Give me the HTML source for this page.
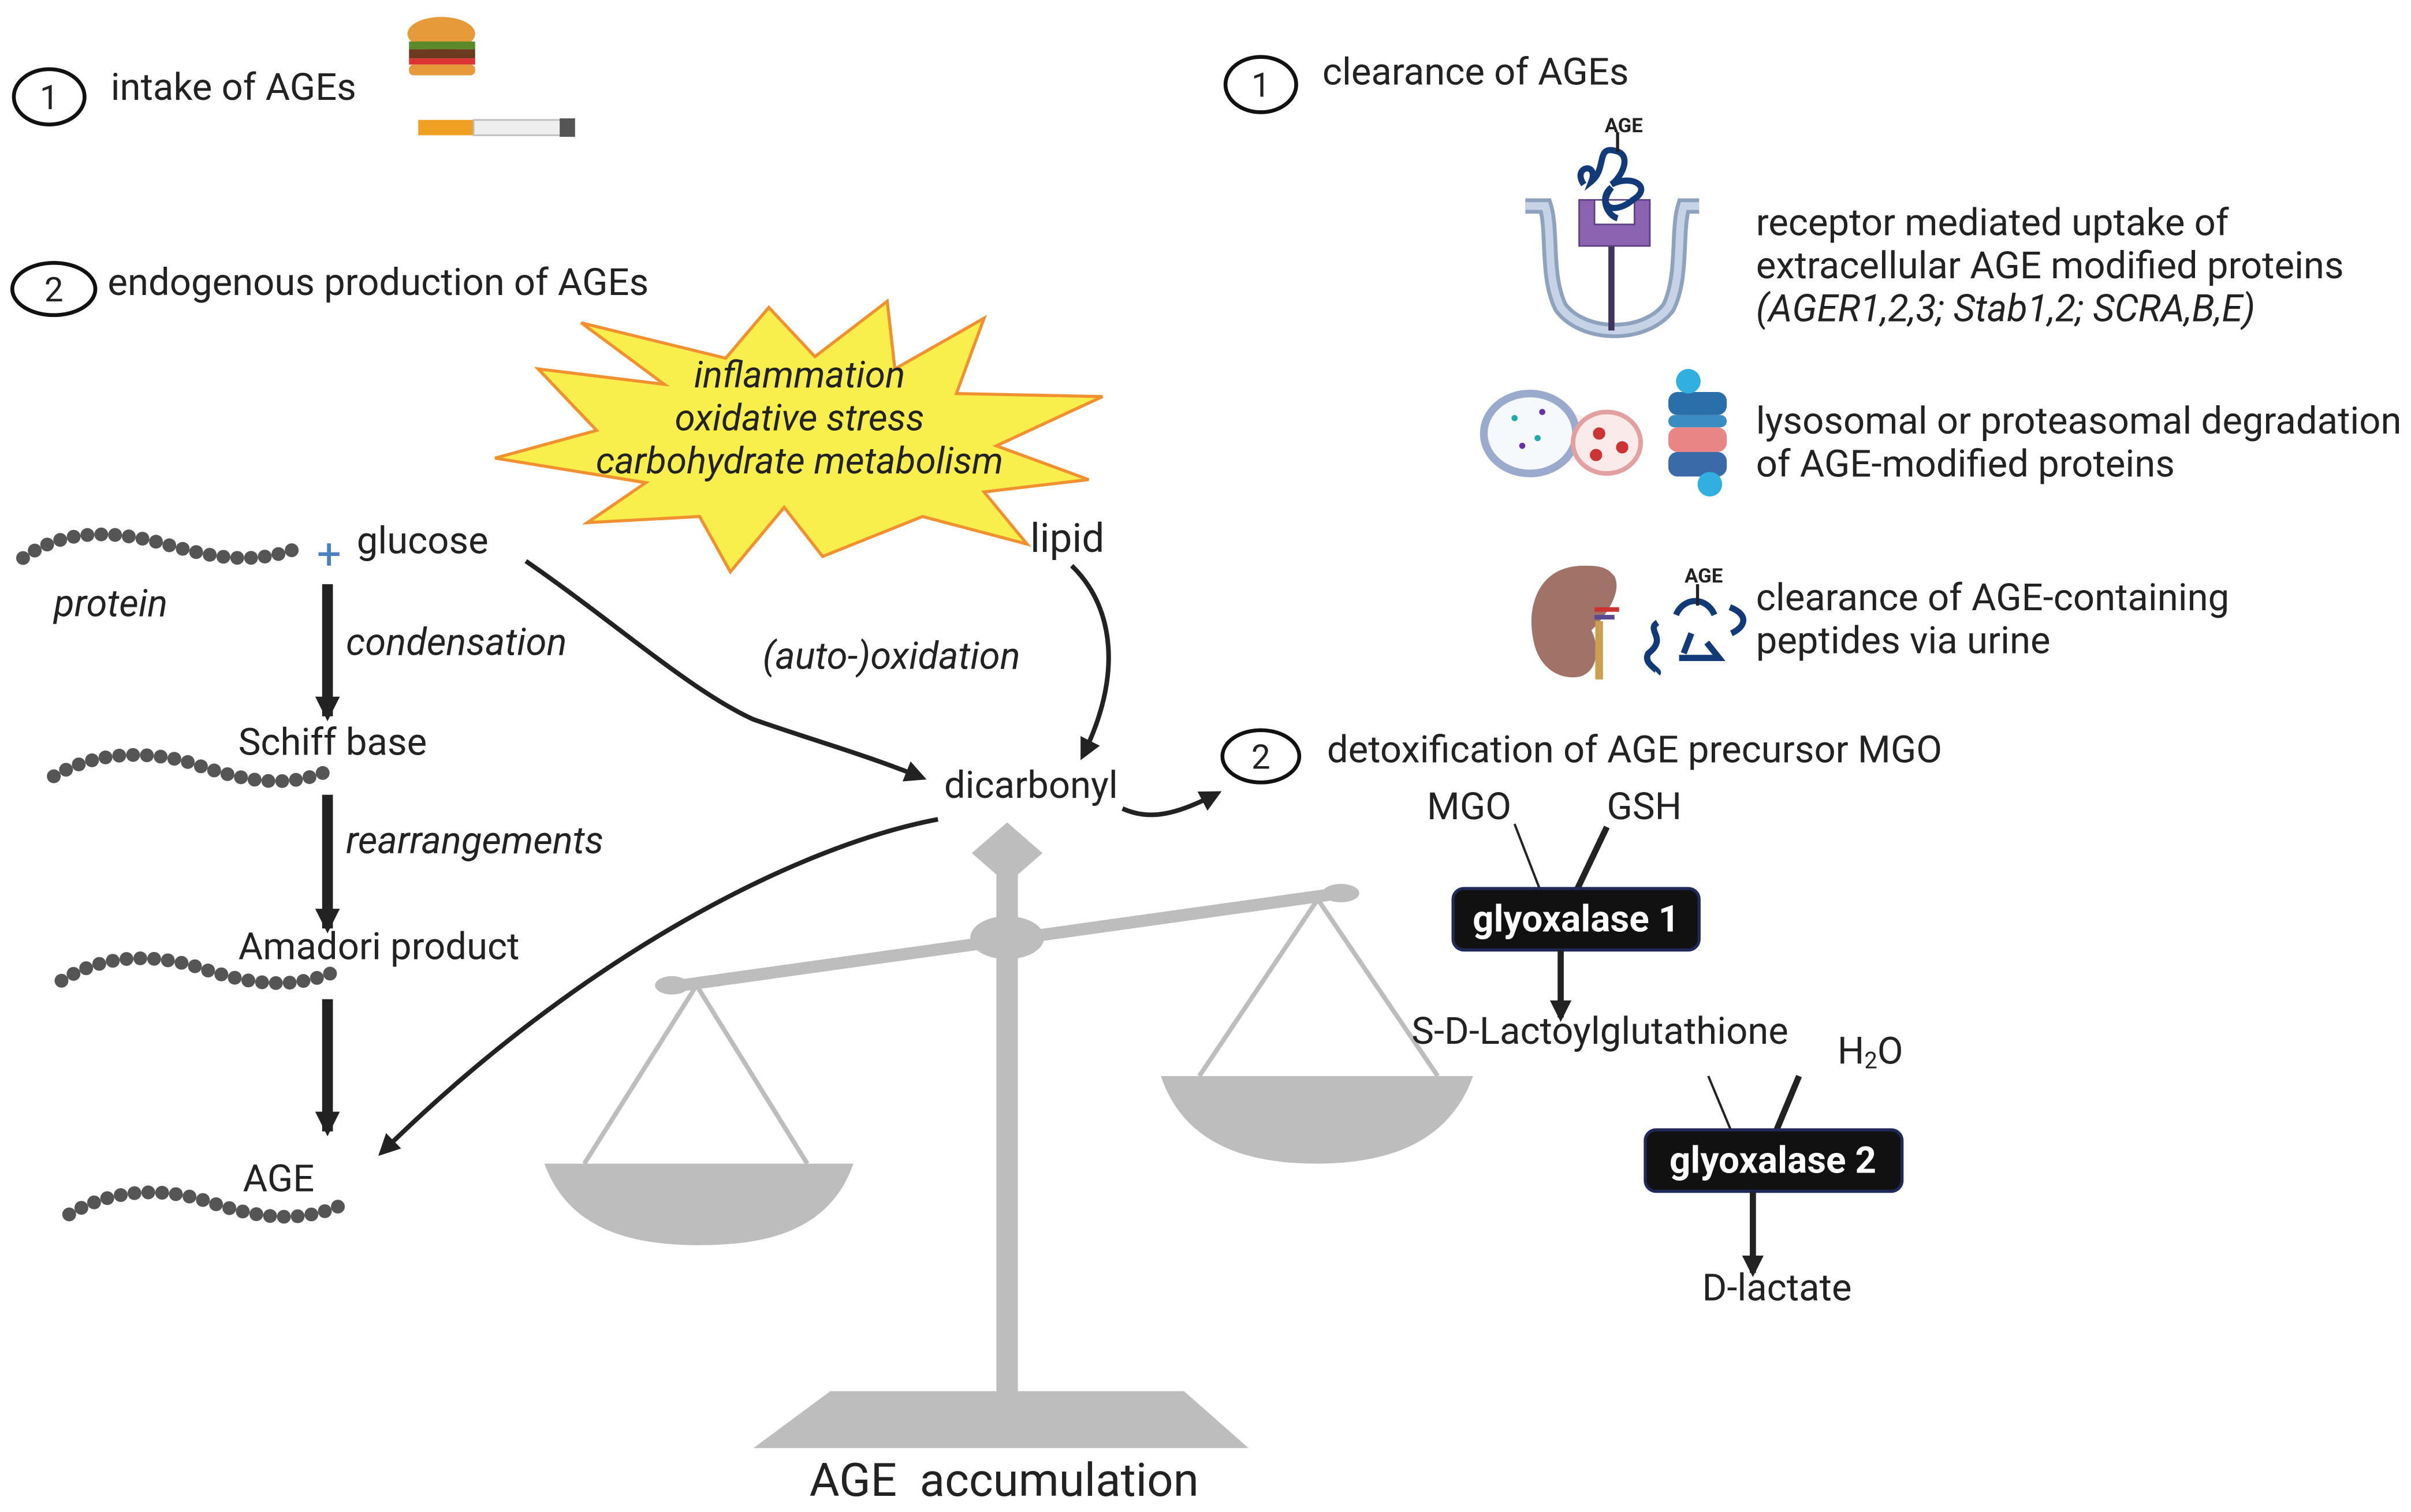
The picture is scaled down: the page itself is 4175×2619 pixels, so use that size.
<!DOCTYPE html>
<html><head><meta charset="utf-8"><style>
html,body{margin:0;padding:0;background:#fff;}
svg{display:block;}
text{font-family:"Roboto","Liberation Sans",sans-serif;fill:#222;}
</style></head><body>
<svg width="4175" height="2619" viewBox="0 0 1568 983.6" preserveAspectRatio="none" xmlns="http://www.w3.org/2000/svg">
<defs>
<marker id="ah" viewBox="0 0 10 10" refX="8" refY="5" markerWidth="18" markerHeight="16" markerUnits="userSpaceOnUse" orient="auto"><path d="M0,0 L10,5 L0,10 Z" fill="#222"/></marker>
<marker id="ah2" viewBox="0 0 10 10" refX="8" refY="5" markerWidth="16" markerHeight="14" markerUnits="userSpaceOnUse" orient="auto"><path d="M0,0 L10,5 L0,10 Z" fill="#222"/></marker>
</defs>
<rect width="1568" height="984" fill="#fff"/>

<ellipse cx="32" cy="63" rx="23" ry="18" fill="none" stroke="#111" stroke-width="2.5"/>
<text x="32" y="71" font-size="22" text-anchor="middle">1</text>
<text x="72" y="65" font-size="24.5">intake of AGEs</text>
<ellipse cx="287" cy="22" rx="22" ry="11" fill="#e69a3a"/>
<rect x="266" y="27" width="43" height="5" fill="#5a8a2a"/>
<rect x="266" y="32" width="43" height="6" fill="#6b3a1f"/>
<rect x="266" y="38" width="43" height="4" fill="#d33"/>
<rect x="266" y="42" width="43" height="7" rx="3" fill="#e69a3a"/>
<rect x="272" y="78" width="36" height="10" fill="#f0a020"/>
<rect x="308" y="78" width="60" height="10" fill="#eee" stroke="#bbb"/>
<rect x="364" y="77" width="10" height="12" fill="#555"/>

<ellipse cx="35" cy="188" rx="27" ry="17" fill="none" stroke="#111" stroke-width="2.5"/>
<text x="35" y="196" font-size="22" text-anchor="middle">2</text>
<text x="70" y="192" font-size="24.5">endogenous production of AGEs</text>

<polygon points="322,298 388,280 350,240 432,250 378,210 472,233 500,200 530,232 577,196 582,240 640,207 622,256 717,258 648,290 708,312 640,320 668,354 600,336 535,362 510,330 475,372 455,336 382,340 420,314" fill="#f8ee4c" stroke="#f09030" stroke-width="2"/>
<text x="520" y="252" font-size="24" font-style="italic" text-anchor="middle">inflammation</text>
<text x="520" y="280" font-size="24" font-style="italic" text-anchor="middle">oxidative stress</text>
<text x="520" y="308" font-size="24" font-style="italic" text-anchor="middle">carbohydrate metabolism</text>

<path d="M15,363 C40,345 70,345 100,352 C130,360 160,370 195,356" fill="none" stroke="#555" stroke-width="9" stroke-dasharray="0 9" stroke-linecap="round"/>
<path d="M35,505 C60,490 90,488 120,495 C150,505 180,515 212,502" fill="none" stroke="#555" stroke-width="9" stroke-dasharray="0 9" stroke-linecap="round"/>
<path d="M40,638 C65,622 95,620 125,628 C155,638 185,646 218,632" fill="none" stroke="#555" stroke-width="9" stroke-dasharray="0 9" stroke-linecap="round"/>
<path d="M45,790 C70,775 100,772 130,780 C160,790 190,798 222,784" fill="none" stroke="#555" stroke-width="9" stroke-dasharray="0 9" stroke-linecap="round"/>

<text x="214" y="370" font-size="28" style="fill:#4a7fc0" text-anchor="middle">+</text>
<text x="232" y="360" font-size="24.5">glucose</text>
<text x="35" y="401" font-size="24.5" font-style="italic">protein</text>
<line x1="213" y1="380" x2="213" y2="466" stroke="#222" stroke-width="7" marker-end="url(#ah)"/>
<line x1="213" y1="517" x2="213" y2="604" stroke="#222" stroke-width="7" marker-end="url(#ah)"/>
<line x1="213" y1="650" x2="213" y2="736" stroke="#222" stroke-width="7" marker-end="url(#ah)"/>
<text x="225" y="426" font-size="24.5" font-style="italic">condensation</text>
<text x="155" y="491" font-size="24.5">Schiff base</text>
<text x="225" y="555" font-size="24.5" font-style="italic">rearrangements</text>
<text x="155" y="624" font-size="24.5">Amadori product</text>
<text x="158" y="775" font-size="24.5">AGE</text>

<path d="M342,365 C400,405 450,450 490,468 C530,482 560,490 600,506" fill="none" stroke="#222" stroke-width="3" marker-end="url(#ah2)"/>
<text x="496" y="435" font-size="24.5" font-style="italic">(auto-)oxidation</text>
<text x="670" y="359" font-size="26">lipid</text>
<path d="M697,368 C725,395 730,440 704,492" fill="none" stroke="#222" stroke-width="3" marker-end="url(#ah2)"/>
<text x="614" y="519" font-size="24.5">dicarbonyl</text>
<path d="M730,526 C748,534 765,530 792,516" fill="none" stroke="#222" stroke-width="3" marker-end="url(#ah2)"/>
<path d="M610,533 C520,550 380,620 248,750" fill="none" stroke="#222" stroke-width="3" marker-end="url(#ah2)"/>

<g fill="#bdbdbd" stroke="none">
<polygon points="655,535 678,555 655,575 632,555"/>
<rect x="648" y="560" width="14" height="350"/>
<polygon points="490,942 812,942 770,905 540,905"/>
<polygon points="436,638 872,577 872,585 436,646"/>
<ellipse cx="655" cy="610" rx="24" ry="14"/>
<ellipse cx="437" cy="641" rx="11" ry="6"/>
<ellipse cx="872" cy="581" rx="12" ry="6"/>
<path d="M354,757 L555,757 C540,800 500,810 455,810 C410,810 370,800 354,757 Z"/>
<path d="M755,700 L958,700 C942,745 900,757 856,757 C812,757 770,745 755,700 Z"/>
</g>
<g stroke="#bdbdbd" stroke-width="3" fill="none">
<polyline points="380,757 453,641 525,757"/>
<polyline points="780,700 857,585 935,700"/>
</g>
<text x="653" y="973" font-size="30" text-anchor="middle" xml:space="preserve">AGE  accumulation</text>

<ellipse cx="820" cy="55" rx="23" ry="18" fill="none" stroke="#111" stroke-width="2.5"/>
<text x="820" y="63" font-size="22" text-anchor="middle">1</text>
<text x="860" y="55" font-size="24.5">clearance of AGEs</text>

<path d="M992,134 L1005,134 C1010,150 1005,180 1015,200 C1030,220 1070,220 1085,200 C1095,180 1090,150 1095,134 L1105,134" fill="none" stroke="#8ea2bd" stroke-width="10"/>
<path d="M992,134 L1005,134 C1010,150 1005,180 1015,200 C1030,220 1070,220 1085,200 C1095,180 1090,150 1095,134 L1105,134" fill="none" stroke="#c6d3e6" stroke-width="5"/>
<line x1="1048" y1="155" x2="1048" y2="215" stroke="#3d3560" stroke-width="4"/>
<path d="M1027,130 L1073,130 L1073,160 L1027,160 Z M1037,130 L1037,146 L1063,146 L1063,130" fill="#8b63b0" fill-rule="evenodd" stroke="#5c3f80" stroke-width="1"/>
<path d="M1030,120 C1022,108 1040,105 1035,118 C1045,110 1038,95 1050,98 C1062,100 1055,115 1048,120 C1062,113 1075,122 1062,130 C1050,140 1038,135 1048,122 C1040,128 1045,140 1052,142" fill="none" stroke="#123a78" stroke-width="4"/>
<line x1="1052" y1="86" x2="1052" y2="99" stroke="#222" stroke-width="2"/>
<text x="1056" y="86" font-size="13" font-weight="bold" text-anchor="middle">AGE</text>
<text x="1142" y="153" font-size="24.5">receptor mediated uptake of</text>
<text x="1142" y="181" font-size="24.5">extracellular AGE modified proteins</text>
<text x="1142" y="209" font-size="24.5" font-style="italic">(AGER1,2,3; Stab1,2; SCRA,B,E)</text>

<path d="M1005,262 L1040,275 L1040,295 L1005,305 Z" fill="#f7eeee"/>
<ellipse cx="995" cy="282" rx="30" ry="26" fill="#f6f9fc" stroke="#9aaacc" stroke-width="5"/>
<ellipse cx="1045" cy="288" rx="22" ry="20" fill="#fbeaea" stroke="#e3a0a0" stroke-width="3"/>
<circle cx="1040" cy="282" r="4" fill="#c33"/><circle cx="1055" cy="291" r="4" fill="#c33"/><circle cx="1038" cy="296" r="4" fill="#c33"/>
<circle cx="985" cy="272" r="2" fill="#2aa"/><circle cx="1000" cy="285" r="2" fill="#2aa"/><circle cx="990" cy="290" r="2" fill="#63a"/><circle cx="1003" cy="268" r="2" fill="#63a"/>
<rect x="1085" y="255" width="38" height="15" rx="6" fill="#2b6fa8"/>
<rect x="1085" y="270" width="38" height="8" rx="4" fill="#3b8cc0"/>
<rect x="1085" y="278" width="38" height="16" rx="6" fill="#e98585"/>
<rect x="1085" y="294" width="38" height="16" rx="6" fill="#3a6aa8"/>
<circle cx="1098" cy="248" r="8" fill="#2fb0e0"/><circle cx="1112" cy="315" r="8" fill="#2fb0e0"/>
<text x="1142" y="282" font-size="24.5">lysosomal or proteasomal degradation</text>
<text x="1142" y="310" font-size="24.5">of AGE-modified proteins</text>

<path d="M1030,368 C1000,368 993,395 997,415 C1000,435 1015,443 1028,440 C1040,436 1040,420 1035,410 C1045,400 1055,385 1050,375 C1045,368 1038,368 1030,368 Z" fill="#a07268"/>
<rect x="1037" y="395" width="16" height="3" fill="#c33"/>
<rect x="1037" y="400" width="13" height="3" fill="#5a4a90"/>
<path d="M1040,404 L1040,442" stroke="#c8a050" stroke-width="5"/>
<path d="M1078,405 C1070,410 1085,415 1072,425 C1068,432 1080,436 1078,438" fill="none" stroke="#123a78" stroke-width="4"/>
<path d="M1090,400 C1095,388 1110,388 1115,400" fill="none" stroke="#123a78" stroke-width="4"/>
<path d="M1095,425 L1100,412 M1092,428 L1118,428 L1110,418" fill="none" stroke="#123a78" stroke-width="4"/>
<path d="M1125,395 C1138,400 1135,408 1126,412" fill="none" stroke="#123a78" stroke-width="4"/>
<line x1="1104" y1="380" x2="1104" y2="394" stroke="#222" stroke-width="2"/>
<text x="1108" y="379" font-size="13" font-weight="bold" text-anchor="middle">AGE</text>
<text x="1142" y="397" font-size="24.5">clearance of AGE-containing</text>
<text x="1142" y="425" font-size="24.5">peptides via urine</text>

<ellipse cx="820" cy="492" rx="25" ry="17" fill="none" stroke="#111" stroke-width="2.5"/>
<text x="820" y="500" font-size="22" text-anchor="middle">2</text>
<text x="863" y="496" font-size="24.5">detoxification of AGE precursor MGO</text>

<text x="928" y="533" font-size="24.5">MGO</text>
<text x="1045" y="533" font-size="24.5">GSH</text>
<line x1="985" y1="536" x2="1002" y2="580" stroke="#222" stroke-width="1.5"/>
<line x1="1045" y1="538" x2="1025" y2="580" stroke="#222" stroke-width="4"/>
<rect x="945" y="578" width="160" height="40" rx="7" fill="#111" stroke="#1f2a5a" stroke-width="2"/>
<text x="1025" y="606" font-size="24" font-weight="bold" text-anchor="middle" style="fill:#fff">glyoxalase 1</text>
<line x1="1015" y1="618" x2="1015" y2="662" stroke="#222" stroke-width="4" marker-end="url(#ah2)"/>
<text x="918" y="679" font-size="24.5">S-D-Lactoylglutathione</text>
<text x="1195" y="692" font-size="24.5">H<tspan font-size="15" dy="3">2</tspan><tspan dy="-3">O</tspan></text>
<line x1="1111" y1="700" x2="1126" y2="736" stroke="#222" stroke-width="1.5"/>
<line x1="1170" y1="700" x2="1155" y2="736" stroke="#222" stroke-width="4"/>
<rect x="1070" y="735" width="167" height="40" rx="7" fill="#111" stroke="#1f2a5a" stroke-width="2"/>
<text x="1153" y="763" font-size="24" font-weight="bold" text-anchor="middle" style="fill:#fff">glyoxalase 2</text>
<line x1="1140" y1="775" x2="1140" y2="828" stroke="#222" stroke-width="4" marker-end="url(#ah2)"/>
<text x="1107" y="846" font-size="24.5">D-lactate</text>
</svg>
</body></html>
